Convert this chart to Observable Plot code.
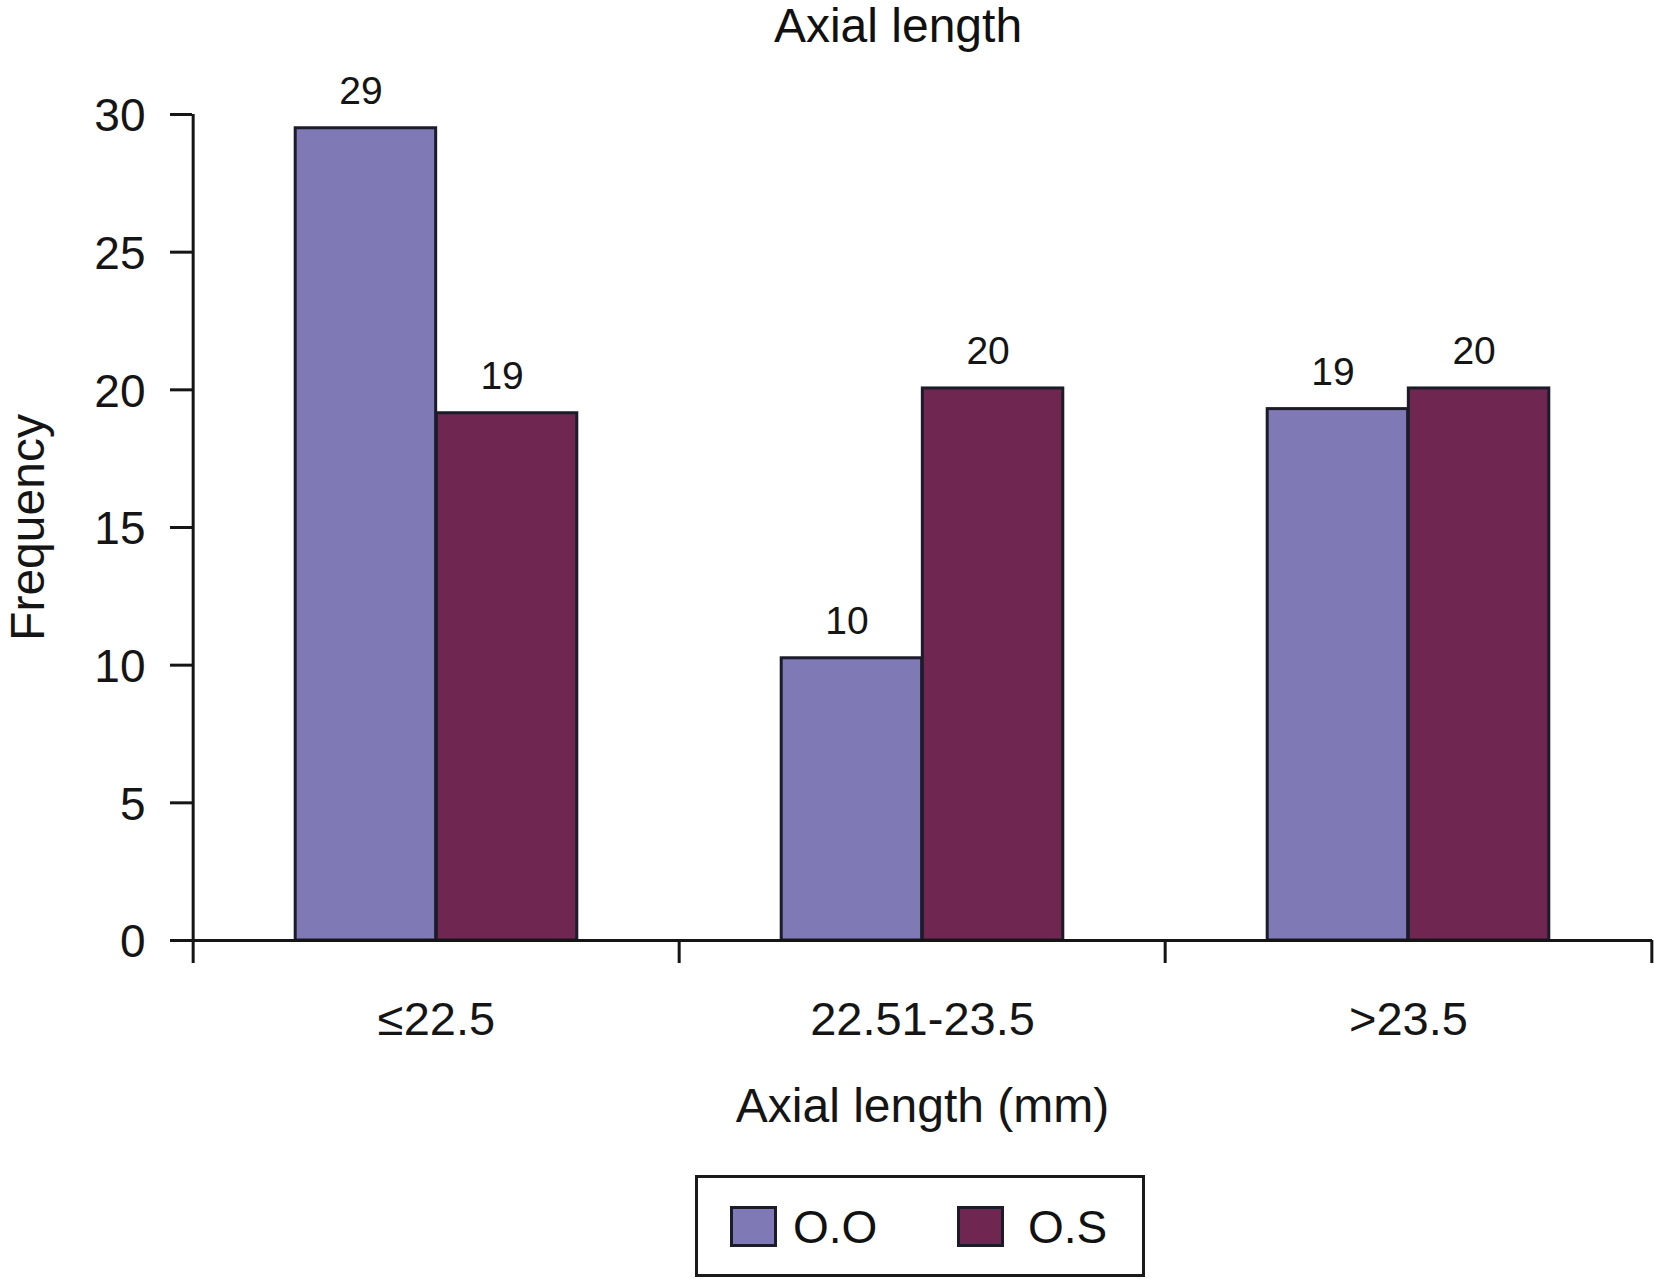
<!DOCTYPE html>
<html>
<head>
<meta charset="utf-8">
<script src="https://cdn.jsdelivr.net/npm/d3@7"></script>
<script src="https://cdn.jsdelivr.net/npm/@observablehq/plot@0.6"></script>
<style>
  body { margin: 0; background: #ffffff; font-family: "Liberation Sans", Arial, Helvetica, sans-serif; color: #111; }
  #wrap { position: relative; width: 1654px; height: 1279px; overflow: hidden; background: #fff; }
  #title { position: absolute; left: 498px; width: 800px; top: 2px; text-align: center; font-size: 48px; line-height: 48px; white-space: nowrap; }
  #chart { position: absolute; left: 0; top: 60px; }
  #legend { position: absolute; left: 695px; top: 1175px; width: 450px; height: 102px; box-sizing: border-box; border: 3px solid #1a1a1a; }
  .sw { position: absolute; top: 28px; width: 47px; height: 41px; box-sizing: border-box; border: 3.5px solid #1c1b29; }
  .lab { position: absolute; top: 26px; font-size: 46px; line-height: 46px; white-space: nowrap; }
</style>
</head>
<body>
<div id="wrap">
  <div id="title"></div>
  <div id="chart"></div>
  <div id="legend"></div>
</div>
<script>
// ---- data ----
const titleText = "Axial length";
const xLabel = "Axial length (mm)";
const yLabel = "Frequency";
const categories = ["≤22.5", "22.51-23.5", ">23.5"];
const series = ["O.O", "O.S"];
const ooLabels = [29, 10, 19];
const osLabels = [19, 20, 20];
const ooHeights = [29.5, 10.25, 19.3];
const osHeights = [19.15, 20.05, 20.05];
const yTicks = [0, 5, 10, 15, 20, 25, 30];
const colors = ["#7f7ab5", "#6f2752"];
const edge = "#1c1b29";
const ink = "#151515";

// ---- table for the library ----
const rows = categories.flatMap((c, i) => [
  {category: c, series: series[0], height: ooHeights[i], label: ooLabels[i]},
  {category: c, series: series[1], height: osHeights[i], label: osLabels[i]}
]);
const rowsA = rows.filter(d => d.series === series[0]);
const rowsB = rows.filter(d => d.series === series[1]);

const W = 1654, H = 1090, mL = 192, mR = 2, mT = 54, mB = 210;
const bw = (W - mL - mR) / categories.length;
const gap = 0.21 * bw, half = 0.5 * bw;

document.getElementById("title").textContent = titleText;

const chart = Plot.plot({
  width: W, height: H,
  marginLeft: mL, marginRight: mR, marginTop: mT, marginBottom: mB,
  style: {fontFamily: '"Liberation Sans", Arial, Helvetica, sans-serif', background: "#fff", color: ink, overflow: "visible"},
  x: {type: "band", domain: categories, padding: 0},
  y: {domain: [0, yTicks[yTicks.length - 1]]},
  color: {domain: series, range: colors},
  marks: [
    Plot.barY(rowsA, {x: "category", y: "height", fill: "series", stroke: edge, strokeWidth: 3, insetLeft: gap, insetRight: half}),
    Plot.barY(rowsB, {x: "category", y: "height", fill: "series", stroke: edge, strokeWidth: 3, insetLeft: half, insetRight: gap}),
    Plot.text(rowsA, {x: "category", y: "height", text: "label", dx: (gap - half) / 2 - 5, dy: -24, lineAnchor: "bottom", fontSize: 39, fill: ink}),
    Plot.text(rowsB, {x: "category", y: "height", text: "label", dx: (half - gap) / 2 - 5, dy: -24, lineAnchor: "bottom", fontSize: 39, fill: ink}),
    // x axis line (extends left like the 0 tick)
    Plot.ruleY([0], {stroke: ink, strokeWidth: 3, insetLeft: -22}),
    // y axis line, continuing below as the first category boundary tick
    Plot.ruleX([categories[0]], {x: d => d, y1: yTicks[yTicks.length - 1], y2: 0, dx: -bw / 2, insetBottom: -23, stroke: ink, strokeWidth: 3}),
    // category boundary ticks
    Plot.ruleX(categories.slice(1), {x: d => d, y1: 0, y2: 0, dx: -bw / 2, insetBottom: -23, stroke: ink, strokeWidth: 3}),
    Plot.ruleX([categories[categories.length - 1]], {x: d => d, y1: 0, y2: 0, dx: bw / 2, insetBottom: -23, stroke: ink, strokeWidth: 3}),
    // y ticks and labels
    Plot.axisY(yTicks, {tickSize: 22, strokeWidth: 3, stroke: ink, fill: "none", label: null}),
    Plot.axisY(yTicks, {tickSize: 0, tickPadding: 47, dy: 2, fontSize: 46, fill: ink, label: null}),
    // x category labels
    Plot.axisX({tickSize: 0, tickPadding: 61, fontSize: 47, fill: ink, label: null}),
    // axis titles
    Plot.text([xLabel], {frameAnchor: "bottom", dy: 181, lineAnchor: "bottom", fontSize: 48, fill: ink}),
    Plot.text([yLabel], {frameAnchor: "left", rotate: -90, dx: -149, textAnchor: "middle", lineAnchor: "bottom", fontSize: 48, fill: ink})
  ]
});
document.getElementById("chart").appendChild(chart);

// ---- legend ----
const legend = document.getElementById("legend");
const swLeft = [32, 259], labLeft = [95, 330];
series.forEach((s, i) => {
  const sw = document.createElement("div");
  sw.className = "sw";
  sw.style.left = swLeft[i] + "px";
  sw.style.background = colors[i];
  legend.appendChild(sw);
  const lb = document.createElement("div");
  lb.className = "lab";
  lb.style.left = labLeft[i] + "px";
  lb.textContent = s;
  legend.appendChild(lb);
});
</script>
</body>
</html>
